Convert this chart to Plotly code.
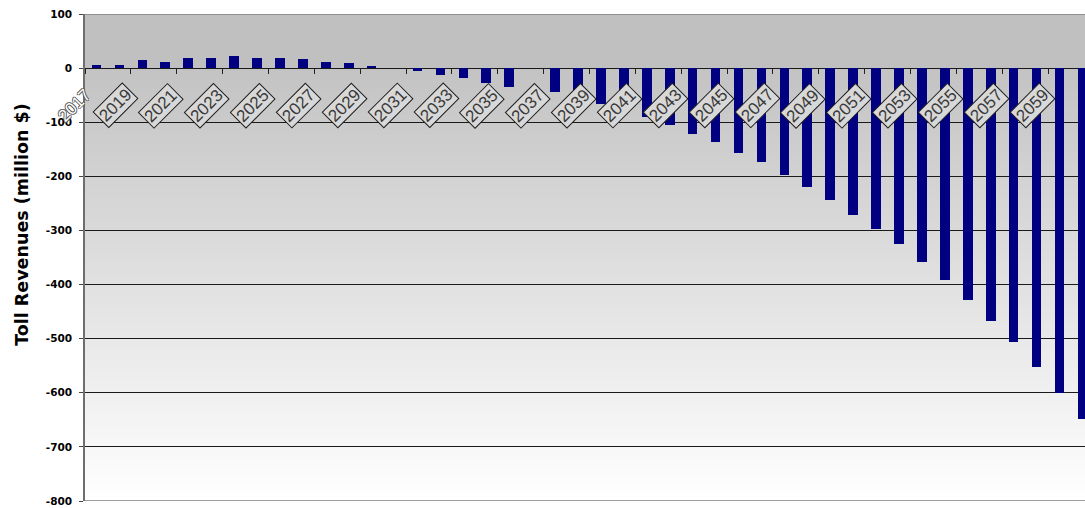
import plotly.graph_objects as go

# Annual toll revenue, million $
years = list(range(2017, 2061))
toll_revenue = [
    6, 6, 15, 12, 18, 18, 22, 19, 18, 17,
    12, 9, 4, 0, -6, -12, -18, -28, -35, None,
    -45, -55, -66, -78, -91, -105, -121, -137, -157, -174,
    -197, -219, -244, -271, -297, -325, -359, -391, -429, -467,
    -507, -552, -600, -649,
]
label_years = list(range(2017, 2060, 2))
y_ticks = list(range(100, -900, -100))

Y_MIN, Y_MAX = -800, 100
PX_PER_YEAR = 22.93

fig = go.Figure()
fig.add_trace(go.Bar(
    x=years,
    y=toll_revenue,
    width=0.42,
    marker=dict(color="#000080", line=dict(width=0)),
    hoverinfo="x+y",
))

# Plot background: flat grey above zero, fading to white towards the bottom.
# Each rectangle runs from its band's top down to the bottom of the plot and
# later (lighter) ones cover the lower part, so no seams show between bands.
def shade(v):
    if v >= 0:
        return 192
    return round(195 + (255 - 195) * (-v / 800))

shapes = []
step = 5
for v in range(Y_MAX, Y_MIN, -step):
    g = shade(v - step / 2)
    shapes.append(dict(
        type="rect", xref="paper", yref="y",
        x0=0, x1=1, y0=Y_MIN, y1=v,
        fillcolor=f"rgb({g},{g},{g})", line=dict(width=0), layer="below",
    ))
# top and bottom frame lines
for v in (Y_MAX, Y_MIN):
    shapes.append(dict(
        type="line", xref="paper", yref="y", x0=0, x1=1, y0=v, y1=v,
        line=dict(color="#808080", width=1.5),
    ))

# Rotated year labels in boxes just below the zero line
OUTLINE = "1px 0 #555, -1px 0 #555, 0 1px #555, 0 -1px #555"
annotations = []
for yr in label_years:
    first = yr == label_years[0]
    annotations.append(dict(
        x=yr, y=-70, xref="x", yref="y",
        xshift=-(0.95 if first else 1.17) * PX_PER_YEAR,
        text=str(yr), showarrow=False, textangle=-45,
        font=dict(family="Liberation Sans", size=17,
                  color="#ffffff" if first else "#3a3a3a",
                  shadow=OUTLINE if first else "none"),
        bgcolor="rgba(0,0,0,0)" if first else "#d8d8d8",
        bordercolor="rgba(0,0,0,0)" if first else "#1e1e1e",
        borderwidth=1, borderpad=1,
        xanchor="center", yanchor="middle",
    ))

annotations.append(dict(
    x=-0.063, y=0.567, xref="paper", yref="paper",
    text="Toll Revenues (million $)", showarrow=False, textangle=-90,
    font=dict(family="DejaVu Sans", size=17.5, color="#000000", weight="bold"),
    xanchor="center", yanchor="middle",
))

fig.update_layout(
    width=1085, height=508,
    margin=dict(l=85, r=0, t=14, b=7),
    paper_bgcolor="#ffffff",
    plot_bgcolor="#ffffff",
    showlegend=False,
    bargap=0,
    shapes=shapes,
    annotations=annotations,
    xaxis=dict(
        range=[2016.5, 2016.5 + 1000 / PX_PER_YEAR],
        anchor="free",
        position=(0 - Y_MIN) / (Y_MAX - Y_MIN),
        tickmode="array",
        tickvals=[2016.5 + 2 * k for k in range(23)],
        showticklabels=False,
        ticks="outside", ticklen=5, tickcolor="#222222", tickwidth=1,
        showgrid=False, zeroline=False, showline=False,
    ),
    yaxis=dict(
        range=[Y_MIN, Y_MAX],
        tickmode="array",
        tickvals=y_ticks,
        ticktext=[str(v) for v in y_ticks],
        tickfont=dict(family="DejaVu Sans", size=10.5, color="#000000", weight="bold"),
        ticks="outside", ticklen=4, tickcolor="#444444",
        ticklabelstandoff=5,
        showgrid=True, gridcolor="#1a1a1a", gridwidth=1,
        zeroline=False,
        showline=True, linecolor="#6e6e6e", linewidth=1.5,
    ),
)

fig.write_html("out.html")
